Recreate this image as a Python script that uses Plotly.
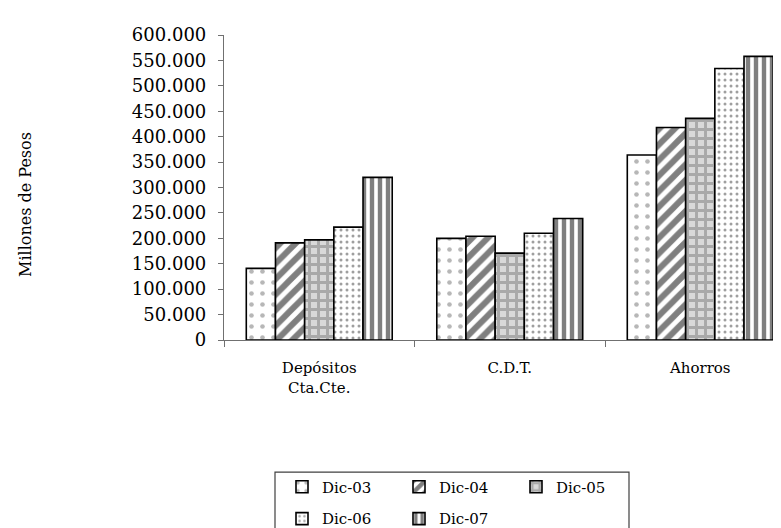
import plotly.graph_objects as go

categories = ["Depósitos<br>Cta.Cte.", "C.D.T.", "Ahorros"]
series_names = ["Dic-03", "Dic-04", "Dic-05", "Dic-06", "Dic-07"]
dic03 = [141000, 200000, 364000]
dic04 = [191000, 204000, 418000]
dic05 = [197000, 171000, 436000]
dic06 = [222000, 210000, 534000]
dic07 = [320000, 239000, 558000]
y_ticks = [0, 50000, 100000, 150000, 200000, 250000, 300000, 350000,
           400000, 450000, 500000, 550000, 600000]

values = [dic03, dic04, dic05, dic06, dic07]
patterns = [
    dict(shape=".", fgcolor="#707070", bgcolor="white", size=11, solidity=0.14),
    dict(shape="/", fgcolor="black", bgcolor="white", size=11, solidity=0.55),
    dict(shape="+", fgcolor="#7a7a7a", bgcolor="#d9d9d9", size=9, solidity=0.55),
    dict(shape=".", fgcolor="#404040", bgcolor="white", size=6, solidity=0.2),
    dict(shape="|", fgcolor="black", bgcolor="white", size=8, solidity=0.55),
]
legend_ids = ["legend", "legend", "legend", "legend2", "legend2"]

FONT = "DejaVu Serif"
W, H = 781, 528
L, T, B = 216, 27, 194
PW = W - L
PH = H - T - B

def px_x(p):
    return (p - L) / PW

def px_y(p):
    return (H - B - p) / PH

fig = go.Figure()
for name, vals, pat, lg in zip(series_names, values, patterns, legend_ids):
    fig.add_trace(go.Bar(
        name=name, x=categories, y=vals, legend=lg,
        marker=dict(color="white", pattern=pat,
                    line=dict(color="black", width=1.6)),
    ))

cat_w = 190.5
legend_common = dict(
    orientation="h", xanchor="left", yanchor="middle",
    entrywidth=72, entrywidthmode="pixels",
    itemwidth=30, font=dict(family=FONT, size=15),
    bgcolor="rgba(0,0,0,0)", borderwidth=0, traceorder="normal",
)
fig.update_layout(
    width=W, height=H,
    margin=dict(l=L, r=0, t=T, b=B, pad=0),
    paper_bgcolor="white", plot_bgcolor="white",
    separators=",.",
    barmode="group", bargap=0.234, bargroupgap=0,
    font=dict(family=FONT, size=16, color="black"),
    showlegend=True,
    xaxis=dict(
        range=[-0.5, -0.5 + PW / cat_w],
        showline=True, linecolor="#707070", linewidth=1.2,
        ticks="outside", tickson="boundaries", ticklen=6, tickcolor="#707070",
        showgrid=False, zeroline=False,
        tickfont=dict(family=FONT, size=15),
        ticklabelstandoff=14,
    ),
    yaxis=dict(
        range=[0, 600000], tickvals=y_ticks, tickformat=",d",
        showline=True, linecolor="#707070", linewidth=1.2,
        ticks="outside", ticklen=5, tickcolor="#707070",
        showgrid=False, zeroline=False,
        tickfont=dict(family=FONT, size=18),
        ticklabelstandoff=8,
    ),
    legend=dict(legend_common, x=px_x(274), y=px_y(482)),
    legend2=dict(legend_common, x=px_x(274), y=px_y(514)),
    shapes=[dict(
        type="rect", xref="paper", yref="paper",
        x0=px_x(267), x1=px_x(621), y0=px_y(540), y1=px_y(467),
        line=dict(color="#404040", width=1.2), fillcolor="rgba(0,0,0,0)",
        layer="below",
    )],
    annotations=[dict(
        text="Millones de Pesos", textangle=-90,
        xref="paper", yref="paper", x=px_x(18), y=px_y(198),
        xanchor="center", yanchor="middle", showarrow=False,
        font=dict(family=FONT, size=16, color="black"),
    )],
)

fig.write_html("out.html")
